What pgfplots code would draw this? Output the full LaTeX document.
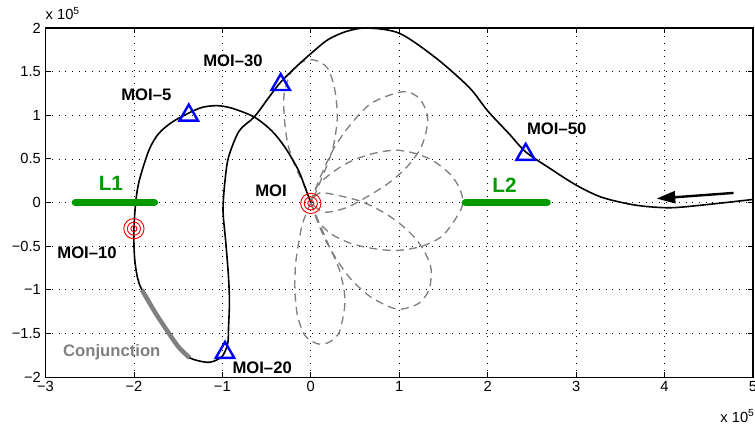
\documentclass[border=0pt]{standalone}
\usepackage{fontspec}
\setmainfont{Liberation Sans}
\usepackage{pgfplots}
\pgfplotsset{compat=1.18}
\usetikzlibrary{arrows.meta}
\definecolor{mgreen}{RGB}{0,153,0}
\definecolor{mgray}{RGB}{128,128,128}
\definecolor{mblue}{RGB}{0,0,255}
\definecolor{mred}{RGB}{255,0,0}
\begin{document}
\begin{tikzpicture}
\begin{axis}[
  at={(0,0)}, anchor=south west,
  scale only axis, width=530.6pt, height=261.75pt,
  xmin=-3, xmax=5, ymin=-2, ymax=2,
  xtick={-3,-2,-1,0,1,2,3,4,5},
  ytick={-2,-1.5,-1,-0.5,0,0.5,1,1.5,2},
  xticklabels={−3,−2,−1,0,1,2,3,4,5},
  yticklabels={−2,−1.5,−1,−0.5,0,0.5,1,1.5,2},
  tick label style={font=\fontsize{11}{13}\selectfont},
  tick align=inside, major tick length=4pt,
  tick style={black, line width=0.6pt},
  axis line style={black, line width=0.8pt},
  grid=major,
  major grid style={black, line width=0.5pt, dash pattern=on 0.6pt off 4.4pt},
]
% dashed petals
\addplot[mgray, line width=1pt, dash pattern=on 6pt off 4pt, smooth] coordinates {
(0,0) (-0.06,0.17) (-0.17,0.40) (-0.26,0.67) (-0.30,0.98) (-0.30,1.25) (-0.22,1.50) (-0.08,1.62) (0.05,1.63) (0.19,1.54) (0.27,1.30) (0.30,0.98) (0.26,0.67) (0.20,0.47) (0.12,0.27) (0.05,0.1) (0,0)};
\addplot[mgray, line width=1pt, dash pattern=on 6pt off 4pt, smooth] coordinates {
(0,0) (0.09,0.25) (0.25,0.6) (0.43,0.87) (0.66,1.12) (0.89,1.23) (1.08,1.27) (1.23,1.19) (1.32,1.0) (1.30,0.79) (1.23,0.6) (1.08,0.40) (0.89,0.23) (0.66,0.08) (0.4,-0.06) (0.15,-0.11) (0,0)};
\addplot[mgray, line width=1pt, dash pattern=on 6pt off 4pt, smooth] coordinates {
(0,0) (0.08,0.2) (0.28,0.37) (0.47,0.48) (0.70,0.56) (0.96,0.6) (1.19,0.56) (1.38,0.48) (1.57,0.33) (1.68,0.17) (1.72,0.0) (1.66,-0.15) (1.49,-0.38) (1.26,-0.5) (0.96,-0.55) (0.66,-0.52) (0.43,-0.46) (0.23,-0.36) (0.09,-0.22) (0,0)};
\addplot[mgray, line width=1pt, dash pattern=on 6pt off 4pt, smooth] coordinates {
(0,0) (0.1,-0.28) (0.23,-0.55) (0.43,-0.85) (0.66,-1.07) (0.9,-1.2) (1.04,-1.22) (1.23,-1.15) (1.34,-0.99) (1.36,-0.76) (1.30,-0.59) (1.19,-0.42) (1.04,-0.27) (0.85,-0.13) (0.6,0.0) (0.36,0.07) (0.1,0.11) (0,0)};
\addplot[mgray, line width=1pt, dash pattern=on 6pt off 4pt, smooth] coordinates {
(0,0) (-0.09,-0.23) (-0.13,-0.42) (-0.17,-0.69) (-0.18,-0.99) (-0.15,-1.3) (-0.06,-1.53) (0.08,-1.62) (0.21,-1.6) (0.32,-1.49) (0.38,-1.22) (0.38,-1.03) (0.32,-0.76) (0.19,-0.46) (0.08,-0.2) (0,0)};
% main trajectory
\addplot[black, line width=1.2pt, smooth] coordinates {
(5.0,0.035) (4.42,-0.03) (4.05,-0.06) (3.67,-0.03) (3.29,0.06) (3.0,0.2) (2.69,0.40) (2.43,0.58) (2.24,0.79) (2.0,1.05) (1.79,1.32) (1.41,1.66) (1.0,1.94) (0.63,2.0) (0.4,1.96) (0.2,1.87) (0.05,1.75) (-0.15,1.57) (-0.34,1.38) (-0.47,1.21) (-0.64,0.98) (-0.81,0.82) (-0.93,0.52) (-0.97,0.25) (-0.99,0.0) (-0.99,-0.15) (-0.96,-0.47) (-0.93,-0.86) (-0.92,-1.15) (-0.93,-1.43) (-0.94,-1.62) (-1.0,-1.76) (-1.1,-1.82) (-1.19,-1.83) (-1.37,-1.78) (-1.5,-1.65) (-1.63,-1.46) (-1.76,-1.26) (-1.91,-1.0) (-1.96,-0.86) (-1.99,-0.66) (-2.0,-0.47) (-2.0,-0.3) (-1.98,0) (-1.94,0.25) (-1.83,0.6) (-1.72,0.79) (-1.57,0.92) (-1.39,1.02) (-1.23,1.09) (-1.06,1.11) (-0.89,1.08) (-0.64,0.98) (-0.44,0.82) (-0.29,0.63) (-0.14,0.37) (-0.06,0.16) (0,0)};
% conjunction
\addplot[mgray, line width=3.4pt, smooth] coordinates {
(-1.37,-1.78) (-1.5,-1.65) (-1.63,-1.46) (-1.76,-1.26) (-1.91,-1.0)};
% L1, L2
\addplot[mgreen, line width=5.8pt, line cap=round] coordinates {(-2.66,0) (-1.77,0)};
\addplot[mgreen, line width=5.8pt, line cap=round] coordinates {(1.75,0) (2.67,0)};
% arrow
\addplot[black, line width=1.8pt, -{Triangle[length=14pt,width=9pt]}] coordinates {(4.78,0.11) (3.91,0.045)};
% triangles
\addplot[only marks, mark=triangle, mark size=8pt, mblue, mark options={line width=1.8pt}] coordinates {
(-1.38,1.0) (-0.34,1.35) (2.43,0.55) (-0.97,-1.72)};
% red circles
\addplot[only marks, mark=o, mark size=7.6pt, mred, mark options={line width=0.7pt}] coordinates {(-2.0,-0.3) (0,-0.01)};
\addplot[only marks, mark=o, mark size=4.9pt, mred, mark options={line width=0.7pt}] coordinates {(-2.0,-0.3) (0,-0.01)};
\addplot[only marks, mark=o, mark size=2.3pt, mred, mark options={line width=0.7pt}] coordinates {(-2.0,-0.3) (0,-0.01)};
% labels
\begin{scope}[every node/.style={font=\fontsize{12.5}{14}\selectfont\bfseries}]
\node at (axis cs:-0.88,1.63) {MOI–30};
\node at (axis cs:-1.86,1.23) {MOI–5};
\node at (axis cs:-0.45,0.14) {MOI};
\node at (axis cs:2.78,0.85) {MOI–50};
\node at (axis cs:-2.53,-0.58) {MOI–10};
\node[text=mgray] at (axis cs:-2.25,-1.72) {Conjunction};
\node at (axis cs:-0.55,-1.89) {MOI–20};
\node[text=mgreen, font=\fontsize{15.5}{17}\selectfont\bfseries] at (axis cs:-2.26,0.22) {L1};
\node[text=mgreen, font=\fontsize{15.5}{17}\selectfont\bfseries] at (axis cs:2.19,0.2) {L2};
\end{scope}
\end{axis}
\node[anchor=base west, inner sep=0pt, font=\fontsize{11}{13}\selectfont] at (0pt,267.75pt) {x 10\textsuperscript{5}};
\node[anchor=base west, inner sep=0pt, font=\fontsize{11}{13}\selectfont] at (506pt,-33.75pt) {x 10\textsuperscript{5}};
\pgfresetboundingbox
\path[use as bounding box] (-34.1pt,-38.25pt) rectangle (532.1pt,282.75pt);
\end{tikzpicture}
\end{document}
